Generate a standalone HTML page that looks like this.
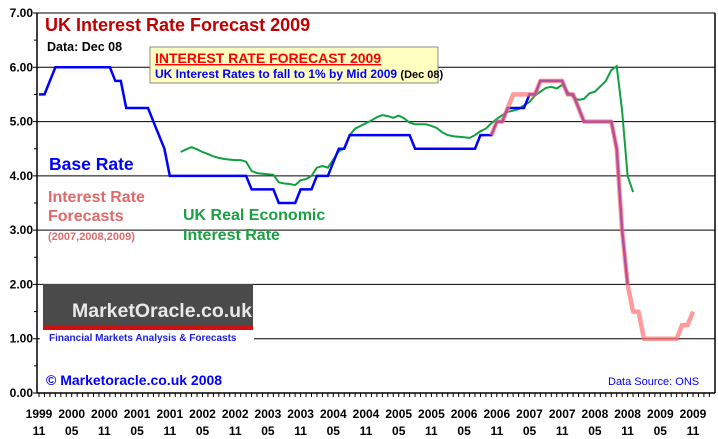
<!DOCTYPE html>
<html><head><meta charset="utf-8"><style>
html,body{margin:0;padding:0;background:#fff;}
svg{display:block;font-family:"Liberation Sans",Arial,sans-serif;}
</style></head><body>
<svg id="chart" width="718" height="439" viewBox="0 0 718 439">
<g id="grid"></g>
<g id="axes"></g>
<g id="series"></g>
<text x="45" y="31" font-size="18" font-weight="bold" fill="#c00000">UK Interest Rate Forecast 2009</text>
<text x="47" y="51" font-size="12.5" font-weight="bold" fill="#000">Data: Dec 08</text>
<g>
<rect x="150" y="47" width="288" height="36" fill="#ffffc0" stroke="#888" stroke-width="1"/>
<text x="155" y="63" font-size="14" font-weight="bold" fill="#ff0000" text-decoration="underline">INTEREST RATE FORECAST 2009</text>
<text x="155" y="78" font-size="12" font-weight="bold" fill="#0000ff">UK Interest Rates to fall to 1% by Mid 2009 <tspan fill="#000" font-size="11">(Dec 08)</tspan></text>
</g>
<text x="49" y="170" font-size="17.5" font-weight="bold" fill="#0000ff">Base Rate</text>
<text x="48" y="202" font-size="16" font-weight="bold" fill="#e06a6a">Interest Rate</text>
<text x="48" y="221" font-size="16" font-weight="bold" fill="#e06a6a">Forecasts</text>
<text x="48" y="240" font-size="11" font-weight="bold" fill="#e06a6a">(2007,2008,2009)</text>
<text x="183" y="220" font-size="16" font-weight="bold" fill="#1aa040">UK Real Economic</text>
<text x="183" y="240" font-size="16" font-weight="bold" fill="#1aa040">Interest Rate</text>
<g>
<rect x="40" y="330" width="214" height="16" fill="#fff"/>
<rect x="43" y="284" width="210" height="43" fill="#4a4a4a"/>
<rect x="43" y="326" width="210" height="4" fill="#d01010"/>
<text x="72" y="317" font-size="19.5" font-weight="bold" fill="#e8e8e8">MarketOracle.co.uk</text>
<text x="49" y="341" font-size="10" font-weight="bold" fill="#2020e0">Financial Markets Analysis &amp; Forecasts</text>
</g>
<text x="46" y="385" font-size="14" font-weight="bold" fill="#0000ff">© Marketoracle.co.uk 2008</text>
<text x="608" y="385" font-size="11" fill="#0000ff">Data Source: ONS</text>
</svg>
<script>
const yTicks=[0,1,2,3,4,5,6,7];
const xLabelYears=["1999","2000","2000","2001","2001","2002","2002","2003","2003","2004","2004","2005","2005","2006","2006","2007","2007","2008","2008","2009","2009"];
const xLabelMonths=["11","05","11","05","11","05","11","05","11","05","11","05","11","05","11","05","11","05","11","05","11"];
const baseStart=0;
const baseRate=[5.5,5.5,5.75,6,6,6,6,6,6,6,6,6,6,6,5.75,5.75,5.25,5.25,5.25,5.25,5.25,5.0,4.75,4.5,4,4,4,4,4,4,4,4,4,4,4,4,4,4,4,3.75,3.75,3.75,3.75,3.75,3.5,3.5,3.5,3.5,3.75,3.75,3.75,4,4,4,4.25,4.5,4.5,4.75,4.75,4.75,4.75,4.75,4.75,4.75,4.75,4.75,4.75,4.75,4.75,4.5,4.5,4.5,4.5,4.5,4.5,4.5,4.5,4.5,4.5,4.5,4.5,4.75,4.75,4.75,5,5,5.25,5.25,5.25,5.25,5.5,5.5,5.75,5.75,5.75,5.75,5.75,5.5,5.5,5.25,5,5,5,5,5,5,4.5,3.0,2.0];
const forecastStart=83;
const forecastRate=[4.75,5,5,5.25,5.5,5.5,5.5,5.5,5.5,5.75,5.75,5.75,5.75,5.75,5.5,5.5,5.25,5,5,5,5,5,5,4.5,3.0,2.0,1.5,1.5,1,1,1,1,1,1,1,1.25,1.25,1.5];
const realStart=26;
const realRate=[4.44,4.49,4.53,4.49,4.44,4.40,4.36,4.33,4.31,4.30,4.29,4.29,4.26,4.09,4.05,4.04,4.03,4.02,3.88,3.86,3.85,3.83,3.92,3.94,4.0,4.15,4.18,4.15,4.3,4.45,4.5,4.75,4.87,4.92,4.97,5.02,5.08,5.12,5.1,5.07,5.11,5.06,4.98,4.95,4.95,4.95,4.92,4.88,4.8,4.75,4.73,4.72,4.71,4.7,4.75,4.82,4.87,4.97,5.05,5.12,5.18,5.2,5.23,5.3,5.36,5.48,5.55,5.62,5.64,5.61,5.68,5.55,5.45,5.4,5.42,5.52,5.55,5.65,5.75,5.95,6.02,5.2,4.0,3.7];

const NS="http://www.w3.org/2000/svg";
const X0=37,X1=715,Y0=393,Y7=13;
function xs(i){return 39+5.45*i;}
function ys(v){return Y0-(v/7)*(Y0-Y7);}
function mk(tag,attrs,parent){const e=document.createElementNS(NS,tag);for(const k in attrs)e.setAttribute(k,attrs[k]);parent.appendChild(e);return e;}
const grid=document.getElementById('grid'),axes=document.getElementById('axes'),series=document.getElementById('series');
yTicks.forEach(v=>{
  if(v>0){const l=mk('line',{x1:X0,x2:X1,y1:ys(v),y2:ys(v),stroke:'#000','stroke-width':1},grid);
  
  }
  const t=mk('text',{x:33,y:ys(v)+4,'text-anchor':'end','font-size':12,'font-weight':'bold',fill:'#000'},axes);
  t.textContent=v.toFixed(2);
  
  
  mk('line',{x1:X0-4,x2:X0,y1:ys(v),y2:ys(v),stroke:'#000'},axes);
  if(v<7)mk('line',{x1:X0-3,x2:X0,y1:ys(v+0.5),y2:ys(v+0.5),stroke:'#000'},axes);
});
mk('line',{x1:X0,x2:X0,y1:Y7,y2:Y0,stroke:'#000','stroke-width':1.5},axes);
mk('line',{x1:X1,x2:X1,y1:Y7,y2:Y0,stroke:'#000','stroke-width':1.5},axes);
mk('line',{x1:X0,x2:X1,y1:Y0,y2:Y0,stroke:'#000','stroke-width':1.5},axes);
for(let i=0;i<=123;i++){const x=xs(i);if(x>X1)break;mk('line',{x1:x,x2:x,y1:Y0,y2:Y0+4,stroke:'#000'},axes);}
xLabelYears.forEach((yr,k)=>{
  const x=xs(k*6);
  const t=mk('text',{x:x,y:418,'text-anchor':'middle','font-size':12,'font-weight':'bold',fill:'#000'},axes);
  t.textContent=yr;
  
  
  const m=mk('text',{x:x,y:435,'text-anchor':'middle','font-size':12,'font-weight':'bold',fill:'#000'},axes);
  m.textContent=xLabelMonths[k];
  
  
});
function pts(arr,start){return arr.map((v,i)=>xs(start+i).toFixed(1)+','+ys(v).toFixed(1)).join(' ');}
const g=mk('polyline',{points:pts(realRate,realStart),fill:'none',stroke:'#10a040','stroke-width':2},series);


const b=mk('polyline',{points:pts(baseRate,baseStart),fill:'none',stroke:'#0000ff','stroke-width':2.5},series);


const f=mk('polyline',{points:pts(forecastRate,forecastStart),fill:'none',stroke:'#ff7070','stroke-opacity':0.7,'stroke-width':4.5,'stroke-linejoin':'round'},series);


</script>
</body></html>
